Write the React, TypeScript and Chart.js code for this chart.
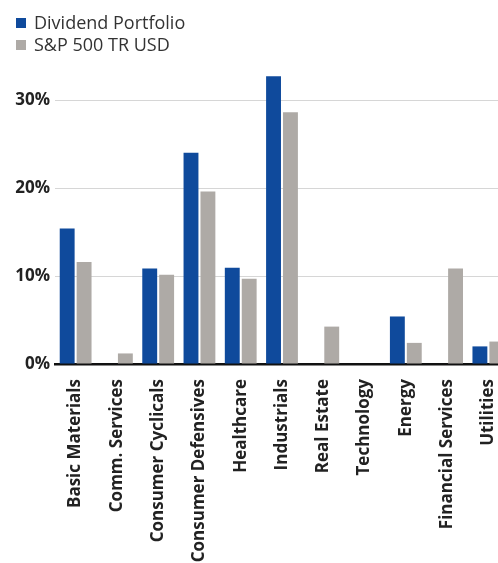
import React, { useEffect, useRef } from "react";
import { Chart, registerables } from "chart.js";

Chart.register(...registerables);

const categories = [
  "Basic Materials",
  "Comm. Services",
  "Consumer Cyclicals",
  "Consumer Defensives",
  "Healthcare",
  "Industrials",
  "Real Estate",
  "Technology",
  "Energy",
  "Financial Services",
  "Utilities",
];
const portfolioValues = [15.4, 0, 10.85, 24.0, 10.95, 32.7, 0, 0, 5.4, 0, 2.0];
const benchmarkValues = [11.6, 1.2, 10.15, 19.6, 9.7, 28.6, 4.25, 0, 2.4, 10.85, 2.55];
const seriesNames = ["Dividend Portfolio", "S&P 500 TR USD"];
const yTicks = [0, 10, 20, 30];

const BLUE = "#0f4a9c";
const GRAY = "#aeaaa6";
const FONT = "'Open Sans', sans-serif";

const legendPlugin = {
  id: "stackLegend",
  afterDraw(chart: any) {
    const ctx = chart.ctx;
    ctx.save();
    chart.data.datasets.forEach((ds: any, i: number) => {
      const cy = 23 + i * 22;
      ctx.fillStyle = ds.backgroundColor;
      ctx.fillRect(16, cy - 5, 10, 10);
      ctx.fillStyle = "#333333";
      ctx.font = `18px ${FONT}`;
      ctx.textBaseline = "middle";
      ctx.textAlign = "left";
      ctx.fillText(ds.label, 34, cy + 1);
    });
    ctx.restore();
  },
};

export default function App() {
  const ref = useRef<HTMLCanvasElement | null>(null);
  useEffect(() => {
    if (!ref.current) return;
    const chart = new Chart(ref.current, {
      type: "bar",
      data: {
        labels: categories,
        datasets: [
          { label: seriesNames[0], data: portfolioValues, backgroundColor: BLUE },
          { label: seriesNames[1], data: benchmarkValues, backgroundColor: GRAY },
        ],
      },
      options: {
        animation: false,
        responsive: false,
        devicePixelRatio: 1,
        layout: { padding: { top: 56, left: 0, right: 1, bottom: 0 } },
        datasets: {
          bar: { categoryPercentage: 0.82, barPercentage: 0.88 },
        },
        plugins: {
          legend: { display: false },
          tooltip: { enabled: false },
        },
        scales: {
          x: {
            grid: { display: false, drawTicks: false },
            border: { display: true, color: "#111111", width: 2.5 },
            ticks: {
              autoSkip: false,
              maxRotation: 90,
              minRotation: 90,
              padding: 15,
              color: "#222222",
              font: { family: FONT, size: 17, weight: "bold" },
            },
            afterFit(scale: any) {
              scale.height = 199;
              scale.paddingLeft = 0;
              scale.paddingRight = 0;
            },
          },
          y: {
            min: 0,
            max: 35,
            grid: {
              drawTicks: false,
              color: (c: any) => (c.tick && c.tick.value === 0 ? "rgba(0,0,0,0)" : "#d6d6d6"),
              lineWidth: 1,
            },
            border: { display: false },
            afterBuildTicks(axis: any) {
              axis.ticks = yTicks.map((v) => ({ value: v }));
            },
            ticks: {
              padding: 5,
              color: "#222222",
              font: { family: FONT, size: 17, weight: "bold" },
              callback: (v: any) => `${v}%`,
            },
            afterFit(scale: any) {
              scale.width = 55;
            },
          },
        },
      },
      plugins: [legendPlugin],
    });
    return () => chart.destroy();
  }, []);

  return (
    <div
      style={{
        position: "fixed",
        left: 0,
        top: 0,
        width: 498,
        height: 563,
        overflow: "hidden",
        background: "#ffffff",
      }}
    >
      <canvas ref={ref} width={510} height={563} style={{ width: 510, height: 563, display: "block" }} />
    </div>
  );
}
